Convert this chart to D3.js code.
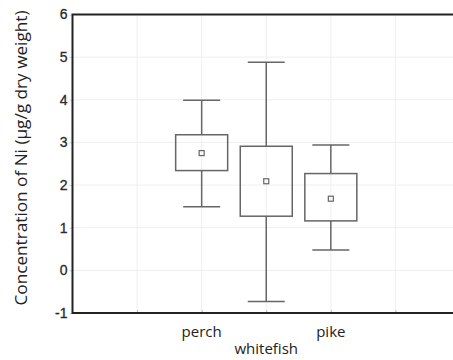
<!DOCTYPE html>
<html>
<head>
<meta charset="utf-8">
<script src="https://cdn.jsdelivr.net/npm/d3@7"></script>
<style>
  html, body { margin: 0; padding: 0; background: #fff; }
  svg { display: block; }
</style>
</head>
<body>
<svg id="chart" width="453" height="360"></svg>
<script>
// Fish species, placed at x positions 2, 3, 4 on the category axis
const species = ["perch", "whitefish", "pike"];
const positions = [2, 3, 4];
// Box-and-whisker statistics for Ni concentration (µg/g dry weight)
const whiskerLow = [1.49, -0.73, 0.48];
const boxLow = [2.34, 1.27, 1.16];
const centre = [2.75, 2.09, 1.68];
const boxHigh = [3.18, 2.91, 2.27];
const whiskerHigh = [3.99, 4.88, 2.94];
const yTicks = [-1, 0, 1, 2, 3, 4, 5, 6];
const xTicks = [0, 1, 2, 3, 4, 5, 6];

const svg = d3.select("#chart");
const plotLeft = 72.5, plotRight = 460, plotTop = 14.5, plotBottom = 313;

const x = d3.scaleLinear().domain([0, 6]).range([plotLeft, plotRight]);
const y = d3.scaleLinear().domain([-1, 6]).range([plotBottom, plotTop]);

// faint grid
const grid = svg.append("g").attr("stroke", "#efefef").attr("stroke-width", 1);
grid.selectAll(".gx").data(xTicks.slice(1)).join("line")
  .attr("x1", d => x(d)).attr("x2", d => x(d)).attr("y1", plotTop).attr("y2", plotBottom);
grid.selectAll(".gy").data(yTicks.slice(1, -1)).join("line")
  .attr("x1", plotLeft).attr("x2", plotRight).attr("y1", d => y(d)).attr("y2", d => y(d));

// y axis with numeric labels (plain hyphen for negatives)
const yAxis = d3.axisLeft(y).tickValues(yTicks).tickSize(3).tickPadding(2).tickFormat(d => String(d));
const gy = svg.append("g").attr("transform", `translate(${plotLeft},0)`).call(yAxis);
gy.select(".domain").remove();
gy.selectAll(".tick line").attr("stroke", "#ccc");
gy.selectAll(".tick text")
  .attr("font-family", "'Liberation Sans', Arial, sans-serif")
  .attr("font-size", 14).attr("fill", "#2a2a2a")
  .attr("stroke", "#2a2a2a").attr("stroke-width", 0.3);

// x axis: small ticks only
const xAxis = d3.axisBottom(x).tickValues(xTicks.slice(1)).tickSize(3).tickFormat("");
const gx = svg.append("g").attr("transform", `translate(0,${plotBottom})`).call(xAxis);
gx.select(".domain").remove();
gx.selectAll(".tick line").attr("stroke", "#bbb").attr("transform", "translate(0,-3)");

// frame: left, top, bottom lines
svg.append("path")
  .attr("d", `M${plotRight},${plotTop}H${plotLeft}V${plotBottom}H${plotRight}`)
  .attr("stroke", "#222").attr("stroke-width", 2).attr("fill", "none");

// category labels, alternating in two rows
svg.append("g").selectAll("text").data(species).join("text")
  .attr("x", (d, i) => x(positions[i]))
  .attr("y", (d, i) => i % 2 === 0 ? 337 : 354)
  .attr("text-anchor", "middle")
  .attr("font-family", "'Open Sans', 'Noto Sans', sans-serif")
  .attr("font-size", 15).attr("fill", "#222")
  .text(d => d);

// y axis title
svg.append("text")
  .attr("transform", "translate(27,158) rotate(-90)")
  .attr("text-anchor", "middle")
  .attr("font-family", "'Open Sans', 'Noto Sans', sans-serif")
  .attr("font-size", 16).attr("fill", "#222")
  .attr("textLength", 295).attr("lengthAdjust", "spacingAndGlyphs")
  .text("Concentration of Ni (µg/g dry weight)");

// boxes and whiskers
const boxW = 52, capW = 37, markW = 5;
const boxes = svg.append("g").attr("stroke", "#666").attr("stroke-width", 1.5).attr("fill", "none");
species.forEach((s, i) => {
  const cx = x(positions[i]);
  const g = boxes.append("g");
  g.append("line").attr("x1", cx).attr("x2", cx).attr("y1", y(whiskerHigh[i])).attr("y2", y(boxHigh[i]));
  g.append("line").attr("x1", cx).attr("x2", cx).attr("y1", y(boxLow[i])).attr("y2", y(whiskerLow[i]));
  g.append("line").attr("x1", cx - capW / 2).attr("x2", cx + capW / 2).attr("y1", y(whiskerHigh[i])).attr("y2", y(whiskerHigh[i]));
  g.append("line").attr("x1", cx - capW / 2).attr("x2", cx + capW / 2).attr("y1", y(whiskerLow[i])).attr("y2", y(whiskerLow[i]));
  g.append("rect").attr("x", cx - boxW / 2).attr("width", boxW)
    .attr("y", y(boxHigh[i])).attr("height", y(boxLow[i]) - y(boxHigh[i]));
  g.append("rect").attr("x", cx - markW / 2).attr("width", markW)
    .attr("y", y(centre[i]) - markW / 2).attr("height", markW).attr("stroke-width", 1.2);
});
</script>
</body>
</html>
